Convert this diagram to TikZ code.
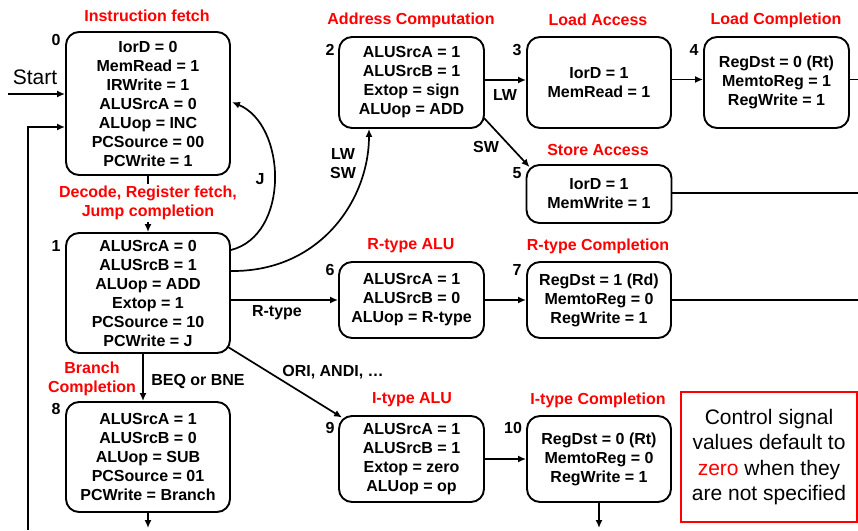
\documentclass[tikz,border=0pt]{standalone}
\usepackage{fontspec}
\setmainfont{Liberation Sans}
\usetikzlibrary{arrows.meta}
\begin{document}
\begin{tikzpicture}[x=1pt,y=-1pt,
  st/.style={draw, line width=1.9pt, rounded corners=13pt, inner sep=0pt, align=center, font=\bfseries\fontsize{16}{19}\selectfont},
  ttl/.style={text=red, font=\bfseries\fontsize{16}{19}\selectfont, align=center, inner sep=0pt},
  lbl/.style={font=\bfseries\fontsize{16}{19}\selectfont, inner sep=0pt, align=center},
  arr/.style={line width=1.7pt, -{Latex[length=8pt,width=7pt]}},
  ln/.style={line width=1.7pt}]
\useasboundingbox (0,0) rectangle (858,530);
\coordinate (redge) at (858,0);
\coordinate (bot) at (0,528);
\coordinate (st0) at (8,94);
\coordinate (bl) at (28,530);

% states
\node[st, minimum width=164pt, minimum height=143pt] (s0) at (148,103.5) {IorD = 0\\MemRead = 1\\IRWrite = 1\\ALUSrcA = 0\\ALUop = INC\\PCSource = 00\\PCWrite = 1};
\node[st, minimum width=164pt, minimum height=120pt] (s1) at (148,293) {ALUSrcA = 0\\ALUSrcB = 1\\ALUop = ADD\\Extop = 1\\PCSource = 10\\PCWrite = J};
\node[st, minimum width=164pt, minimum height=110pt] (s8) at (148,457) {ALUSrcA = 1\\ALUSrcB = 0\\ALUop = SUB\\PCSource = 01\\PCWrite = Branch};
\node[st, minimum width=145pt, minimum height=91pt] (s2) at (411.5,82.5) {ALUSrcA = 1\\ALUSrcB = 1\\Extop = sign\\ALUop = ADD};
\node[st, minimum width=144pt, minimum height=91pt] (s3) at (599,82.5) {IorD = 1\\MemRead = 1};
\node[st, minimum width=145pt, minimum height=91pt] (s4) at (776.5,82.5) {RegDst = 0 (Rt)\\MemtoReg = 1\\RegWrite = 1};
\node[st, minimum width=145pt, minimum height=58pt] (s5) at (599,194) {IorD = 1\\MemWrite = 1};
\node[st, minimum width=145pt, minimum height=76pt] (s6) at (411.5,300) {ALUSrcA = 1\\ALUSrcB = 0\\ALUop = R-type};
\node[st, minimum width=144pt, minimum height=76pt] (s7) at (599,300) {RegDst = 1 (Rd)\\MemtoReg = 0\\RegWrite = 1};
\node[st, minimum width=145pt, minimum height=86pt] (s9) at (411.5,459) {ALUSrcA = 1\\ALUSrcB = 1\\Extop = zero\\ALUop = op};
\node[st, minimum width=144pt, minimum height=86pt] (s10) at (599,459) {RegDst = 0 (Rt)\\MemtoReg = 0\\RegWrite = 1};

% state numbers
\node[lbl] (n0) at (56,40) {0};
\node[lbl] (n1) at (56,246) {1};
\node[lbl] (n8) at (56,409) {8};
\node[lbl] (n2) at (330,50) {2};
\node[lbl] (n3) at (517,50) {3};
\node[lbl] (n4) at (694,50) {4};
\node[lbl] (n5) at (517,173) {5};
\node[lbl] (n6) at (330,270) {6};
\node[lbl] (n7) at (517,270) {7};
\node[lbl] (n9) at (330,428) {9};
\node[lbl] (n10) at (513,428) {10};

% titles
\node[ttl] (t0) at (147,16) {Instruction fetch};
\node[ttl, inner sep=2pt] (t1) at (148,203) {Decode, Register fetch,\\Jump completion};
\node[ttl] (t2) at (411,20) {Address Computation};
\node[ttl] (t3) at (598,20) {Load Access};
\node[ttl] (t4) at (776,20) {Load Completion};
\node[ttl] (t5) at (598,150) {Store Access};
\node[ttl] (t6) at (411,246) {R-type ALU};
\node[ttl] (t7) at (598,246) {R-type Completion};
\node[ttl] (t9) at (412,400) {I-type ALU};
\node[ttl] (t10) at (598,400) {I-type Completion};
\node[ttl] (t8) at (92,378.5) {Branch\\Completion};

% Start
\node[font=\fontsize{21}{25}\selectfont, inner sep=0pt] (start) at (35,77) {Start};

% connectors
\draw[arr] (st0) -- ([shift={(0,-9.5)}]s0.west);
\draw[arr] (bl) |- ([shift={(0,23.5)}]s0.west);
\draw[ln] (s0.south) -- (t1.north);
\draw[arr] (t1.south) -- (s1.north);
\draw[arr] ([shift={(0,-43)}]s1.east) .. controls (290,235) and (287,125) .. ([shift={(1,-1.5)}]s0.east);
\draw[arr] ([shift={(0,-22)}]s1.east) .. controls (320,272) and (369,200) .. ([shift={(-42.5,0)}]s2.south);
\draw[arr] (s1.east |- s6.west) -- (s6.west);
\draw[arr] (s6) -- (s7);
\draw[ln] (s7.east) -- (s7.east -| redge);
\draw[arr] ([shift={(0,-2.5)}]s2.east) -- ([shift={(0,-2.5)}]s3.west);
\draw[arr] ([shift={(0,-3)}]s3.east) -- ([shift={(0,-3)}]s4.west);
\draw[ln] ([shift={(0,-3)}]s4.east) -- ([shift={(0,-3)}]s4.east -| redge);
\draw[ln] ([shift={(0,-1)}]s5.east) -- ([shift={(0,-1)}]s5.east -| redge);
\draw[arr] ([shift={(-1,-11)}]s2.south east) -- ([shift={(4,3)}]s5.north west);
\draw[arr] ([shift={(-5,0)}]s1.south) -- ([shift={(-5,0)}]s8.north);
\draw[arr] (s8.south) -- (s8.south |- bot);
\draw[arr] ([shift={(-3,-7)}]s1.south east) -- ([shift={(4,2.5)}]s9.north west);
\draw[arr] (s9) -- (s10);
\draw[arr] (s10.south) -- (s10.south |- bot);

% edge labels
\node[lbl] (lj) at (260,179) {J};
\node[lbl] (llwsw) at (343,164) {LW\\SW};
\node[lbl] (llw) at (505,95) {LW};
\node[lbl] (lsw) at (486,147) {SW};
\node[lbl] (lr) at (277,313) {R-type};
\node[lbl] (lbeq) at (198,381) {BEQ or BNE};
\node[lbl] (lori) at (333,372) {ORI, ANDI, …};

% note
\node[draw=red, line width=1.3pt, minimum width=176pt, minimum height=130pt, inner sep=0pt, align=center, font=\fontsize{21}{25.5}\selectfont] (note) at (769,457) {Control signal\\values default to\\\textcolor{red}{zero} when they\\are not specified};
\end{tikzpicture}
\end{document}
